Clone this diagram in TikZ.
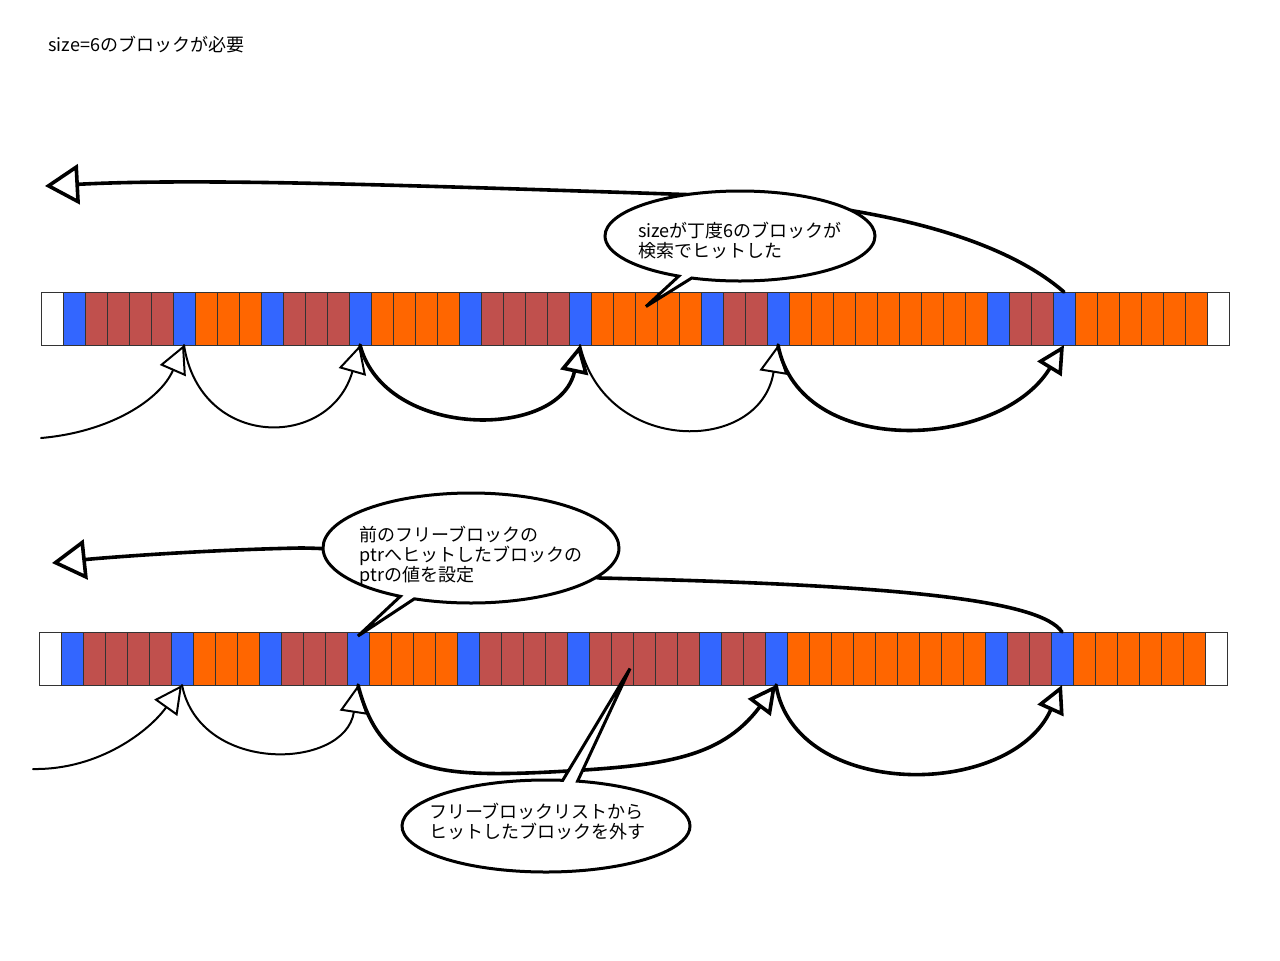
\documentclass[tikz,border=0pt]{standalone}
\usepackage{fontspec}
\newfontfamily\jpfont{Noto Sans CJK JP}
\usetikzlibrary{arrows.meta,shapes.callouts}
\definecolor{cellW}{RGB}{255,255,255}
\definecolor{cellB}{RGB}{51,102,255}
\definecolor{cellR}{RGB}{192,80,77}
\definecolor{cellO}{RGB}{255,102,0}
\tikzset{
  cell/.style={draw=black!80, line width=0.5pt, minimum width=11pt, minimum height=26.5pt, inner sep=0pt, outer sep=0pt},
  link/.style={line width=1pt, line cap=round, line join=round, -{Triangle[open,length=14pt,width=14pt]}},
  thicklink/.style={link, line width=1.8pt},
  longlink/.style={line width=1.8pt, line cap=round, line join=round, -{Triangle[open,length=17pt,width=20pt]}},
  balloon/.style={ellipse callout, draw, fill=white, line width=1.5pt, inner sep=0pt, callout pointer arc=6},
  note/.style={font=\jpfont\fontsize{9}{10}\selectfont, align=left, inner sep=0pt},
}
\begin{document}
\begin{tikzpicture}[x=0.5pt, y=-0.5pt]
    \useasboundingbox (0,0) rectangle (1280,960);
    \def\cellw{22}
    % title
    \node[note, anchor=west] (title) at (48,45) {size=6のブロックが必要};
    % memory before
    \foreach \c [count=\i from 0] in {W,B,R,R,R,R,B,O,O,O,B,R,R,R,B,O,O,O,O,B,R,R,R,R,B,O,O,O,O,O,B,R,R,B,O,O,O,O,O,O,O,O,O,B,R,R,B,O,O,O,O,O,O,W}
        \node[cell, fill=cell\c] (t\i) at ({41+\cellw*\i+\cellw/2},318.5) {};
    % memory after
    \foreach \c [count=\i from 0] in {W,B,R,R,R,R,B,O,O,O,B,R,R,R,B,O,O,O,O,B,R,R,R,R,B,R,R,R,R,R,B,R,R,B,O,O,O,O,O,O,O,O,O,B,R,R,B,O,O,O,O,O,O,W}
        \node[cell, fill=cell\c] (b\i) at ({39+\cellw*\i+\cellw/2},658.5) {};
    % free list before
    \coordinate (tfree) at (41,438);
    \coordinate (thead) at (45,186);
    \draw[link] (tfree) .. controls (110,432) and (160,400) .. (t6.south);
    \draw[link] (t6.south) .. controls (200,450) and (330,450) .. (t14.south);
    \draw[thicklink] (t14.south) .. controls (385,440) and (560,440) .. (t24.south);
    \draw[link] (t24.south) .. controls (605,455) and (760,455) .. (t33.south);
    \draw[thicklink] (t33.south) .. controls (800,460) and (1000,450) .. (t46.south);
    \draw[longlink] (t46.north) .. controls (1010,245) and (900,205) .. (700,195) .. controls (400,185) and (200,178) .. (thead);
    % free list after
    \coordinate (bfree) at (33,769);
    \coordinate (bhead) at (52,563);
    \draw[link] (bfree) .. controls (100,770) and (150,730) .. (b6.south);
    \draw[link] (b6.south) .. controls (200,775) and (345,770) .. (b14.south);
    \draw[thicklink] (b14.south) .. controls (380,770) and (430,778) .. (550,772) .. controls (660,766) and (720,760) .. (b33.south);
    \draw[thicklink] (b33.south) .. controls (795,800) and (1010,800) .. (b46.south);
    \draw[longlink] (b46.north) .. controls (1040,600) and (900,585) .. (600,578) .. controls (450,560) and (350,548) .. (300,548) .. controls (200,550) and (100,558) .. (bhead);
    % balloons
    \node[balloon, minimum width=135pt, minimum height=45pt, callout absolute pointer={([yshift=6pt]t27.center)}] (hitbub) at (740,236) {};
    \node[note] (hittxt) at ([yshift=-2.5pt]hitbub.center) {sizeが丁度6のブロックが\\検索でヒットした};
    \node[balloon, minimum width=148pt, minimum height=55pt, callout absolute pointer={([yshift=-2pt]b14.north)}] (setbub) at (471,548) {};
    \node[note] (settxt) at ([yshift=-4pt]setbub.center) {前のフリーブロックの\\ptrへヒットしたブロックの\\ptrの値を設定};
    \node[balloon, minimum width=144pt, minimum height=46pt, callout absolute pointer={([xshift=4pt,yshift=-5pt]b26.center)}] (delbub) at (546,826) {};
    \node[note] (deltxt) at ([xshift=-4.5pt,yshift=2.5pt]delbub.center) {フリーブロックリストから\\ヒットしたブロックを外す};
\end{tikzpicture}
\end{document}
